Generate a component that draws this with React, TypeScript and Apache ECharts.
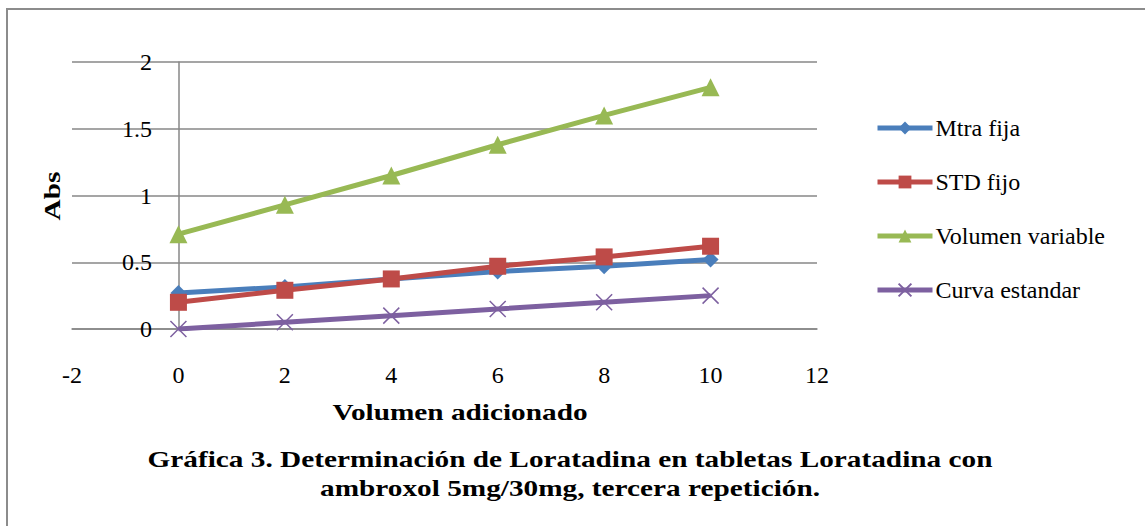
import React, { useEffect, useRef } from "react";
import * as echarts from "echarts";

const xValues = [0, 2, 4, 6, 8, 10];
const mtraFija = [0.27, 0.315, 0.375, 0.43, 0.47, 0.52];
const stdFijo = [0.2, 0.29, 0.375, 0.47, 0.54, 0.62];
const volumenVariable = [0.71, 0.93, 1.15, 1.38, 1.6, 1.81];
const curvaEstandar = [0, 0.05, 0.1, 0.15, 0.2, 0.25];

const seriesNames = ["Mtra fija", "STD fijo", "Volumen variable", "Curva estandar"];
const xAxisTitle = "Volumen adicionado";
const yAxisTitle = "Abs";
const titleText = "Gráfica 3. Determinación de Loratadina en tabletas Loratadina con\nambroxol 5mg/30mg, tercera repetición.";

const FONT = "Liberation Serif";
const GRID = "#878787";
const STRETCH = 1.22;

function pairs(ys: number[]) {
  return xValues.map((x, i) => [x, ys[i]]);
}

export default function App() {
  const ref = useRef<HTMLDivElement>(null);
  useEffect(() => {
    if (!ref.current) return;
    const chart = echarts.init(ref.current, null, { renderer: "svg" });
    const mk = (name: string, data: number[], color: string, symbol: string, size: number, extra: any = {}) => ({
      name,
      type: "line",
      data: pairs(data),
      symbol,
      symbolSize: size,
      lineStyle: { color, width: 5 },
      itemStyle: { color, ...extra },
      z: 3,
    });
    const boldText = (text: string, x: number, y: number, rotation = 0, lineHeight = 29) => ({
      type: "text",
      x,
      y,
      rotation,
      scaleX: STRETCH,
      style: {
        text,
        fontFamily: FONT,
        fontSize: 24,
        fontWeight: "bold",
        lineHeight,
        fill: "#000",
        textAlign: "center",
        textVerticalAlign: "middle",
      },
    });
    chart.setOption({
      animation: false,
      backgroundColor: "#ffffff",
      textStyle: { fontFamily: FONT },
      grid: { left: 72, right: 328, top: 62, bottom: 197 },
      legend: {
        orient: "vertical",
        left: 870,
        top: 110,
        itemWidth: 55,
        itemHeight: 16,
        itemGap: 28,
        data: seriesNames,
        lineStyle: { width: 5 },
        textStyle: { fontFamily: FONT, fontSize: 24, color: "#000", lineHeight: 26, padding: [0, 0, 0, -2] },
      },
      xAxis: {
        type: "value",
        min: -2,
        max: 12,
        interval: 2,
        axisLine: { show: true, onZero: false, lineStyle: { color: GRID, width: 1.5 } },
        axisTick: { show: false },
        splitLine: { show: false },
        axisLabel: { fontFamily: FONT, fontSize: 24, color: "#000", margin: 34 },
      },
      yAxis: {
        type: "value",
        min: 0,
        max: 2,
        interval: 0.5,
        axisLine: { show: true, onZero: true, lineStyle: { color: GRID, width: 1.5 } },
        axisTick: { show: false },
        splitLine: { show: true, lineStyle: { color: GRID, width: 1.5 } },
        axisLabel: { fontFamily: FONT, fontSize: 24, color: "#000", margin: -80 },
      },
      graphic: [
        {
          type: "rect",
          shape: { x: 7, y: 9, width: 1150, height: 530 },
          style: { fill: "none", stroke: "#8c8c8c", lineWidth: 2 },
          silent: true,
        },
        boldText(yAxisTitle, 52, 196, Math.PI / 2),
        boldText(xAxisTitle, 460, 412),
        boldText(titleText, 570, 473),
      ],
      series: [
        mk(seriesNames[0], mtraFija, "#4A7EBB", "diamond", 16),
        mk(seriesNames[1], stdFijo, "#BE4B48", "rect", 17),
        mk(seriesNames[2], volumenVariable, "#98B954", "triangle", 18),
        mk(seriesNames[3], curvaEstandar, "#7D60A0", "path://M0,0L10,10M10,0L0,10", 16, {
          borderColor: "#7D60A0",
          borderWidth: 1.5,
        }),
      ],
    });
    return () => chart.dispose();
  }, []);
  return <div ref={ref} style={{ position: "absolute", left: 0, top: 0, width: 1145, height: 526 }} />;
}
